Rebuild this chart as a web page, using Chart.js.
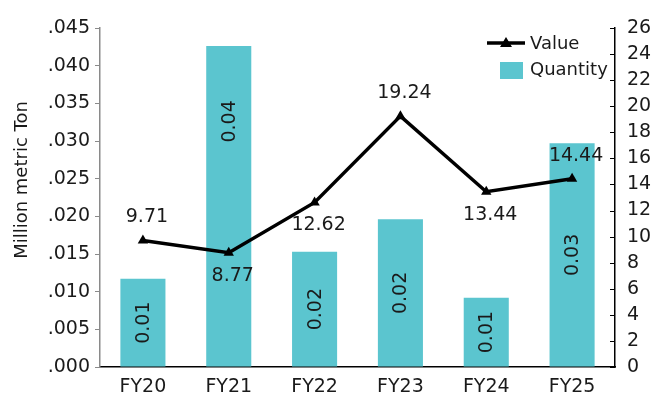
<!DOCTYPE html>
<html lang="en">
<head>
<meta charset="UTF-8" />
<title>Quantity and Value FY20-FY25</title>
<script src="https://cdn.jsdelivr.net/npm/chart.js"></script>
<style>
  html, body { margin: 0; padding: 0; background: #fff; }
  #wrap { width: 657px; height: 395px; }
</style>
</head>
<body>
<div id="wrap"><canvas id="qtyChart"></canvas></div>
<script>
  const years = ['FY20', 'FY21', 'FY22', 'FY23', 'FY24', 'FY25'];
  const quantity = [0.0117, 0.0426, 0.0153, 0.0196, 0.0092, 0.0297]; // million metric ton
  const value = [9.71, 8.77, 12.62, 19.24, 13.44, 14.44];

  const TEAL = '#5bc5cf';
  const INK = '#1a1a1a';
  Chart.defaults.font.family = '"DejaVu Sans", sans-serif';

  // value labels on the line, bar labels rotated inside the bars,
  // plus the axis title, inward right ticks and the legend box
  const annotate = {
    id: 'annotate',
    afterDatasetsDraw(chart, args, opts) {
      const ctx = chart.ctx;
      const lineMeta = chart.getDatasetMeta(0);
      const barMeta = chart.getDatasetMeta(1);
      ctx.save();
      ctx.fillStyle = INK;
      ctx.font = '19px "DejaVu Sans"';
      ctx.textAlign = 'center';
      ctx.textBaseline = 'middle';
      barMeta.data.forEach((bar, i) => {
        const frac = opts.barLabelAt[i] !== undefined ? opts.barLabelAt[i] : 0.5;
        const y = bar.y + (bar.base - bar.y) * frac;
        ctx.save();
        ctx.translate(bar.x, y);
        ctx.rotate(-Math.PI / 2);
        ctx.fillText(quantity[i].toFixed(2), 0, 1);
        ctx.restore();
      });
      lineMeta.data.forEach((pt, i) => {
        ctx.fillText(value[i].toFixed(2), pt.x + 4, pt.y + opts.valueSide[i] * 23);
      });
      ctx.restore();
    },
    afterDraw(chart) {
      const ctx = chart.ctx;
      const area = chart.chartArea;
      const y1 = chart.scales.y1;
      ctx.save();

      // right axis ticks point into the plot
      ctx.strokeStyle = '#000';
      ctx.lineWidth = 1;
      y1.ticks.forEach(t => {
        const py = Math.round(y1.getPixelForValue(t.value)) + 0.5;
        ctx.beginPath();
        ctx.moveTo(area.right - 5, py);
        ctx.lineTo(area.right, py);
        ctx.stroke();
      });

      // left axis title
      ctx.fillStyle = INK;
      ctx.font = '18px "DejaVu Sans"';
      ctx.textAlign = 'center';
      ctx.textBaseline = 'middle';
      ctx.save();
      ctx.translate(22, 180);
      ctx.rotate(-Math.PI / 2);
      ctx.fillText('Million metric Ton', 0, 0);
      ctx.restore();

      // legend
      ctx.textAlign = 'left';
      ctx.strokeStyle = '#000';
      ctx.lineWidth = 3.5;
      ctx.beginPath();
      ctx.moveTo(487, 43);
      ctx.lineTo(525, 43);
      ctx.stroke();
      ctx.fillStyle = '#000';
      ctx.beginPath();
      ctx.moveTo(506, 37);
      ctx.lineTo(512, 47);
      ctx.lineTo(500, 47);
      ctx.closePath();
      ctx.fill();
      ctx.fillStyle = TEAL;
      ctx.fillRect(500, 62, 23, 17);
      ctx.fillStyle = INK;
      ctx.fillText('Value', 530, 44);
      ctx.fillText('Quantity', 530, 70);
      ctx.restore();
    }
  };

  new Chart(document.getElementById('qtyChart'), {
    data: {
      labels: years,
      datasets: [
        {
          type: 'line',
          label: 'Value',
          data: value,
          yAxisID: 'y1',
          order: 0,
          borderColor: '#000',
          backgroundColor: '#000',
          borderWidth: 3.5,
          pointStyle: 'triangle',
          pointRadius: 6,
          pointBackgroundColor: '#000',
          pointBorderWidth: 0,
          tension: 0
        },
        {
          type: 'bar',
          label: 'Quantity',
          data: quantity,
          yAxisID: 'y',
          order: 1,
          backgroundColor: TEAL,
          barPercentage: 0.525,
          categoryPercentage: 1
        }
      ]
    },
    options: {
      responsive: true,
      maintainAspectRatio: false,
      animation: false,
      layout: { padding: { top: 28, left: 0, right: 0, bottom: 0 } },
      plugins: {
        legend: { display: false },
        tooltip: { enabled: false },
        annotate: {
          valueSide: [-1, 1, 1, -1, 1, -1],
          barLabelAt: { 1: 0.235 }
        }
      },
      scales: {
        x: {
          offset: true,
          grid: { drawOnChartArea: false, drawTicks: false },
          border: { color: '#000', width: 1.5 },
          ticks: { color: INK, font: { size: 19 }, padding: 9, maxRotation: 0 },
          afterFit(s) { s.height = 28; }
        },
        y: {
          position: 'left',
          min: 0,
          max: 0.045,
          grid: { drawOnChartArea: false, tickLength: 5, color: '#8a8a8a', tickWidth: 1 },
          border: { color: '#8a8a8a', width: 1.5 },
          ticks: {
            stepSize: 0.005,
            color: INK,
            font: { size: 19 },
            padding: 5,
            callback: v => v.toFixed(3).slice(1)
          },
          afterFit(s) { s.width = 100; }
        },
        y1: {
          position: 'right',
          min: 0,
          max: 26,
          grid: { drawOnChartArea: false, drawTicks: false },
          border: { color: '#000', width: 1.5 },
          ticks: { stepSize: 2, color: INK, font: { size: 19 }, padding: 12 },
          afterFit(s) { s.width = 42; }
        }
      }
    },
    plugins: [annotate]
  });
</script>
</body>
</html>
